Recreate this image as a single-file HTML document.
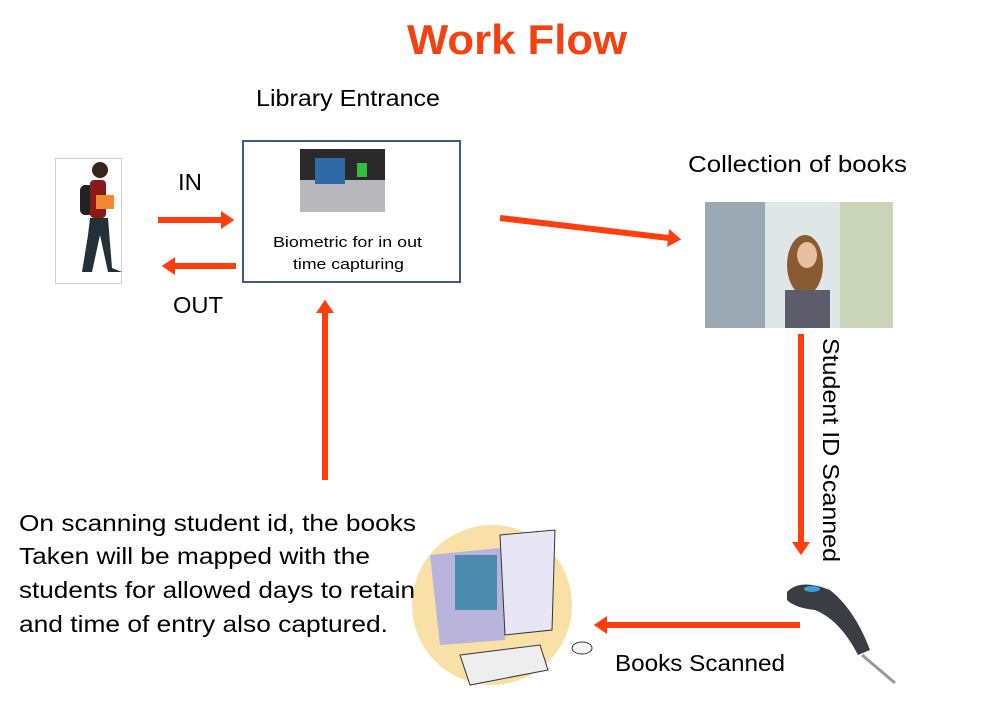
<!DOCTYPE html>
<html><head><meta charset="utf-8"><style>
body{margin:0;background:#fff;width:987px;height:705px;overflow:hidden}
svg{display:block}
text{font-family:"Liberation Sans",sans-serif;fill:#000}
</style></head><body>
<svg width="987" height="705" viewBox="0 0 987 705">
<defs>
<marker id="ah" markerWidth="3" markerHeight="3" refX="1.5" refY="1.5" orient="auto" markerUnits="strokeWidth"><path d="M0,0 L2.2,1.5 L0,3 Z" fill="#ff3d0d"/></marker>
</defs>
<text x="407" y="54" font-size="42" font-weight="bold" textLength="220" lengthAdjust="spacingAndGlyphs" style="fill:#f2420f">Work Flow</text>
<text x="256" y="106" font-size="23" textLength="184" lengthAdjust="spacingAndGlyphs">Library Entrance</text>
<text x="688" y="172" font-size="23" textLength="219" lengthAdjust="spacingAndGlyphs">Collection of books</text>

<rect x="55.5" y="158.5" width="66" height="125" fill="#fff" stroke="#d0d0d0"/>
<circle cx="100" cy="170" r="8" fill="#3a2318"/>
<rect x="80" y="185" width="14" height="30" rx="5" fill="#222"/>
<rect x="90" y="180" width="16" height="38" rx="4" fill="#8a1a1a"/>
<rect x="96" y="195" width="18" height="14" fill="#f08a30"/>
<path d="M90,218 L108,218 L112,268 L122,272 L108,272 L100,235 L92,272 L82,272 L88,235Z" fill="#243038"/>

<rect x="243" y="141" width="217" height="141" fill="#fff" stroke="#3e5b85" stroke-width="2"/>
<rect x="300" y="149" width="85" height="63" fill="#2a2a2a"/>
<rect x="300" y="180" width="85" height="32" fill="#b8b8bc"/>
<rect x="315" y="158" width="30" height="26" fill="#2f6aa6"/>
<rect x="357" y="163" width="10" height="14" fill="#30c040"/>
<text x="273" y="247" font-size="15" textLength="149" lengthAdjust="spacingAndGlyphs">Biometric for in out</text>
<text x="293" y="269" font-size="15" textLength="111" lengthAdjust="spacingAndGlyphs">time capturing</text>

<text x="178" y="190" font-size="23" textLength="24" lengthAdjust="spacingAndGlyphs">IN</text>
<text x="173" y="313" font-size="23" textLength="50" lengthAdjust="spacingAndGlyphs">OUT</text>
<g stroke="#ff3d0d" stroke-width="6" fill="none" marker-end="url(#ah)">
<line x1="158" y1="220" x2="230" y2="220"/>
<line x1="236" y1="266" x2="166" y2="266"/>
<line x1="325" y1="480" x2="325" y2="304"/>
<line x1="500" y1="218" x2="677" y2="239"/>
<line x1="801" y1="334" x2="801" y2="551"/>
<line x1="800" y1="625" x2="598" y2="625"/>
</g>

<rect x="705" y="202" width="188" height="126" fill="#dfe6e6"/>
<rect x="705" y="202" width="60" height="126" fill="#9aa8b4"/>
<rect x="840" y="202" width="53" height="126" fill="#c9d4b8"/>
<ellipse cx="805" cy="265" rx="18" ry="30" fill="#8a5a30"/>
<ellipse cx="807" cy="255" rx="10" ry="13" fill="#e8c0a0"/>
<rect x="785" y="290" width="45" height="38" fill="#5c5c6a"/>

<text transform="translate(823,338) rotate(90)" font-size="23" textLength="224" lengthAdjust="spacingAndGlyphs">Student ID Scanned</text>

<path d="M787,592 Q800,578 830,590 Q855,610 870,650 L858,655 Q840,620 815,610 Q795,608 787,600Z" fill="#3a3d42"/>
<ellipse cx="812" cy="589" rx="8" ry="3" fill="#3aa0e0"/>
<line x1="862" y1="655" x2="895" y2="683" stroke="#999" stroke-width="3"/>

<text x="615" y="671" font-size="23" textLength="170" lengthAdjust="spacingAndGlyphs">Books Scanned</text>

<ellipse cx="492" cy="605" rx="80" ry="80" fill="#f8d890" opacity="0.8"/>
<path d="M430,555 L500,548 L505,640 L440,645Z" fill="#b8b4dc"/>
<rect x="455" y="555" width="42" height="55" fill="#4c8aae"/>
<path d="M500,535 L555,530 L552,630 L505,635Z" fill="#e8e6f4" stroke="#333"/>
<path d="M460,655 L540,645 L548,670 L470,685Z" fill="#eee" stroke="#333"/>
<ellipse cx="582" cy="648" rx="10" ry="6" fill="#f4f4f4" stroke="#333"/>

<g font-size="23">
<text x="19" y="531" textLength="397" lengthAdjust="spacingAndGlyphs">On scanning student id, the  books</text>
<text x="19" y="564" textLength="351" lengthAdjust="spacingAndGlyphs">Taken will be mapped with the</text>
<text x="19" y="598" textLength="396" lengthAdjust="spacingAndGlyphs">students for allowed days to retain</text>
<text x="19" y="632" textLength="369" lengthAdjust="spacingAndGlyphs">and time of entry also captured.</text>
</g>
</svg>
</body></html>
